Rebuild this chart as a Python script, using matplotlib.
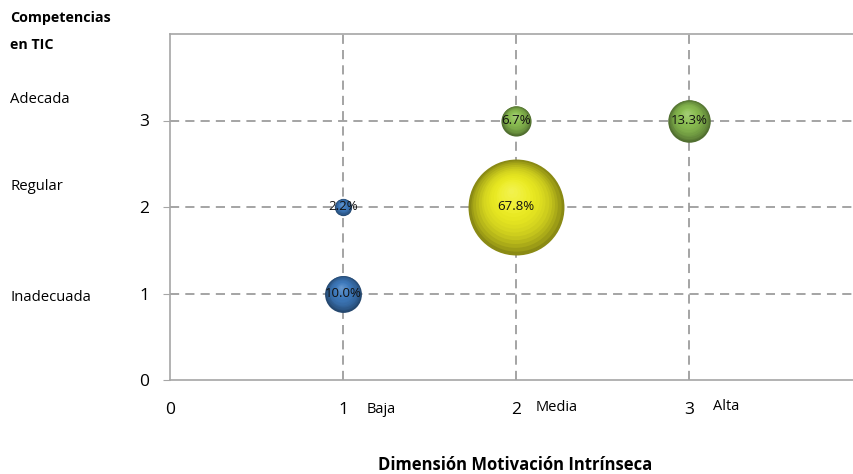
import matplotlib
matplotlib.use("Agg")
import matplotlib.pyplot as plt
import matplotlib.transforms as mtransforms
import numpy as np
from matplotlib.colors import to_rgb

# Data
x_vals = [1, 1, 2, 2, 3]
y_vals = [1, 2, 2, 3, 3]
pct = [10.0, 2.2, 67.8, 6.7, 13.3]
base_colors = ["#3f7cc0", "#3f7cc0", "#eeee22", "#8cc052", "#8cc052"]
x_ticklabels = ["0", "1", "2", "3"]
x_categories = ["Baja", "Media", "Alta"]
y_ticklabels = ["0", "1", "2", "3"]
y_categories = ["Inadecuada", "Regular", "Adecada"]

plt.rcParams['font.family'] = ['Open Sans', 'DejaVu Sans']

fig = plt.figure(figsize=(8.54, 4.74), dpi=100)
ax = fig.add_axes([170/854, 1-380/474, 684/854, (380-34)/474])
ax.set_xlim(0, 684/173)
ax.set_ylim(0, 4.0)

# grid
for v in [1, 2, 3]:
    ax.axvline(v, color="#8c8c8c", lw=1.1, ls=(0, (6, 4)), zorder=1)
    ax.axhline(v, color="#8c8c8c", lw=1.1, ls=(0, (6, 4)), zorder=1)

scale = 70.4
def mix(c, t, target):
    c = np.array(to_rgb(c)); target = np.array(target)
    return tuple(c + (target - c) * t)

n = 16
for xi, yi, p, c in zip(x_vals, y_vals, pct, base_colors):
    s0 = p * scale
    r0 = np.sqrt(s0) / 2  # radius in points
    ax.scatter([xi], [yi], s=s0, color=mix(c, 0.42, (0, 0, 0)), zorder=3, linewidths=0)
    for k in range(1, n + 1):
        f = 1 - k / (n + 1)
        rk = r0 * f
        off = (r0 - rk) * 0.35
        tr = mtransforms.offset_copy(ax.transData, fig=fig, x=-off * 0.3, y=off, units='points')
        t = k / n
        dark = 0.42 * (1 - t) ** 3
        col = mix(c, dark, (0, 0, 0))
        if t > 0.6:
            col = mix(col, (t - 0.6) * 0.5, (1, 1, 1))
        ax.scatter([xi], [yi], s=(2 * rk) ** 2, color=col, zorder=3 + k * 0.01,
                   linewidths=0, transform=tr)
    ax.text(xi, yi, f"{p:.1f}%", ha="center", va="center", fontsize=9.5,
            color="#111111", zorder=10)

# spines
for side in ["left", "bottom", "top"]:
    ax.spines[side].set_color("#a6a6a6")
    ax.spines[side].set_linewidth(1.2)
ax.spines["right"].set_visible(False)

ax.set_xticks([0, 1, 2, 3])
ax.set_xticklabels(x_ticklabels, fontsize=12.5)
ax.set_yticks([0, 1, 2, 3])
ax.set_yticklabels(y_ticklabels, fontsize=12.5)
ax.tick_params(axis="x", length=0, pad=16)
ax.tick_params(axis="y", length=5, pad=10, color="#a6a6a6")

# category labels
cat_dx = [17, 14, 17]
for i, lab in enumerate(x_categories):
    ax.annotate(lab, xy=(i + 1, 0), xycoords="data", xytext=(cat_dx[i], -21 + i),
                textcoords="offset points", fontsize=10.5, ha="left", va="center")
y_offsets = [-3, 15, 15]
blend = mtransforms.blended_transform_factory(fig.transFigure, ax.transData)
for i, lab in enumerate(y_categories):
    fig.text(10/854, i + 1, lab, fontsize=10.7, ha="left", va="center",
             transform=blend + mtransforms.ScaledTranslation(0, y_offsets[i]/72, fig.dpi_scale_trans))

fig.text(10/854, 1-18/474, "Competencias", fontsize=10.3, fontweight="bold", ha="left", va="center")
fig.text(10/854, 1-45/474, "en TIC", fontsize=10.3, fontweight="bold", ha="left", va="center")
fig.text(515/854, 1-465/474, "Dimensión Motivación Intrínseca", fontsize=12,
         fontweight="bold", ha="center", va="center")

fig.savefig("out.png", dpi=100)
